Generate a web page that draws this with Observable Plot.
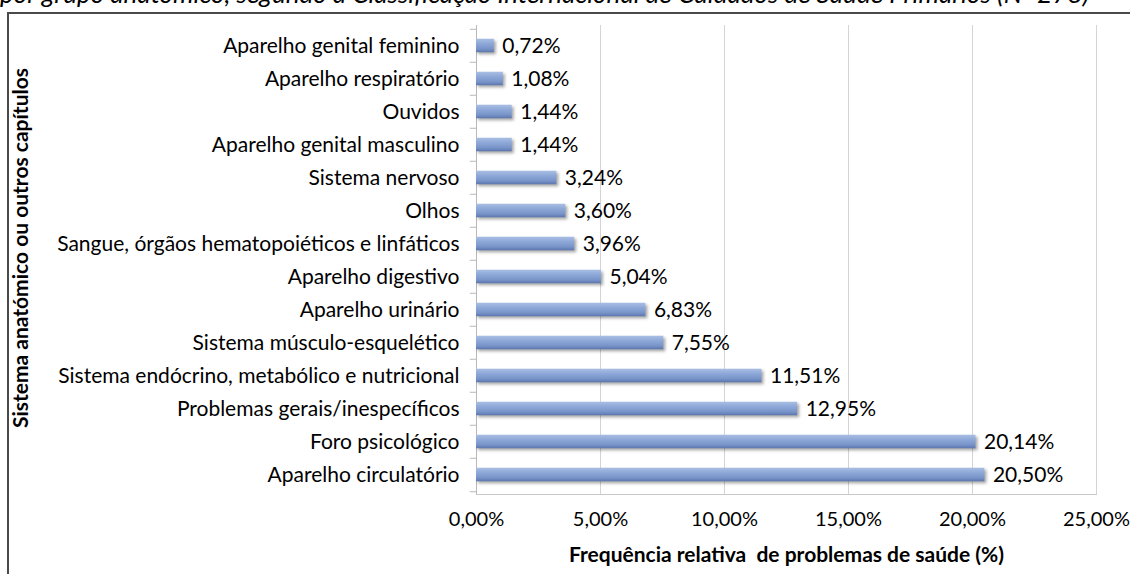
<!DOCTYPE html>
<html>
<head>
<meta charset="utf-8">
<script src="https://cdn.jsdelivr.net/npm/d3@7"></script>
<script src="https://cdn.jsdelivr.net/npm/@observablehq/plot@0.6"></script>
<style>
  html, body { margin: 0; padding: 0; background: #fff; overflow: hidden; }
  #wrap { position: relative; width: 1130px; height: 574px; overflow: hidden; }
  #caption { position: absolute; left: 0; top: -20px; line-height: 26px; font-family: Lato, sans-serif; font-style: italic; font-size: 26px; color: #000; white-space: nowrap; }
  #frame { position: absolute; left: 7px; top: 12px; width: 1140px; height: 600px; border-top: 2px solid #4a4a4a; border-left: 2px solid #4a4a4a; }
  #chart { position: absolute; left: 0; top: 0; }
  #chart svg { overflow: visible; }
  [aria-label="x-axis label"], [aria-label="y-axis label"] { font-weight: bold; }
  [aria-label="x-axis label"] { font-size: 21px; }
</style>
</head>
<body>
<div id="wrap">
  <div id="caption">por grupo anatómico, segundo a Classificação Internacional de Cuidados de Saúde Primários (N=278)</div>
  <div id="frame"></div>
  <div id="chart"></div>
</div>
<script>
const categories = [
  "Aparelho genital feminino",
  "Aparelho respiratório",
  "Ouvidos",
  "Aparelho genital masculino",
  "Sistema nervoso",
  "Olhos",
  "Sangue, órgãos hematopoiéticos e linfáticos",
  "Aparelho digestivo",
  "Aparelho urinário",
  "Sistema músculo-esquelético",
  "Sistema endócrino, metabólico e nutricional",
  "Problemas gerais/inespecíficos",
  "Foro psicológico",
  "Aparelho circulatório"
];
const values = [0.72, 1.08, 1.44, 1.44, 3.24, 3.60, 3.96, 5.04, 6.83, 7.55, 11.51, 12.95, 20.14, 20.50];
const xTicks = [0, 5, 10, 15, 20, 25];
const xTitle = "Frequência relativa \u00a0de problemas de saúde (%)";
const yTitle = "Sistema anatómico ou outros capítulos";

const data = categories.map((c, i) => ({category: c, value: values[i]}));
const fmt = v => v.toFixed(2).replace(".", ",") + "%";

const W = 1130, H = 574, mT = 25, mB = 80, mL = 476, mR = 34;
const step = (H - mT - mB) / categories.length;
const barH = 14;
const inset = (step - barH) / 2;
const FS = 21;

const chart = Plot.plot({
  width: W, height: H,
  marginTop: mT, marginBottom: mB, marginLeft: mL, marginRight: mR,
  style: {fontFamily: "Lato, sans-serif", fontSize: FS + "px", color: "#000", background: "transparent"},
  x: {domain: [0, 25]},
  y: {domain: categories, padding: 0},
  marks: [
    Plot.ruleX(xTicks.filter(t => t > 0), {stroke: "#d4d4d4", strokeWidth: 1}),
    Plot.ruleX([0], {stroke: "#b8b8b8", strokeWidth: 1}),
    Plot.frame({anchor: "bottom", stroke: "#c8c8c8"}),
    Plot.ruleY(categories, {y: d => d, x1: -0.25, x2: 0, dy: -step / 2, stroke: "#b8b8b8"}),
    Plot.ruleY(categories.slice(-1), {y: d => d, x1: -0.25, x2: 0, dy: step / 2, stroke: "#b8b8b8"}),
    Plot.barX(data, {x: "value", y: "category", fill: "url(#barGrad)", insetTop: inset, insetBottom: inset}),
    Plot.text(data, {x: "value", y: "category", text: d => fmt(d.value), dx: 8, textAnchor: "start", fontSize: FS}),
    Plot.axisY({tickSize: 0, tickPadding: 17, fontSize: FS, label: yTitle, labelAnchor: "center", labelArrow: "none", labelOffset: 463}),
    Plot.axisX({ticks: xTicks, tickFormat: fmt, tickSize: 0, tickPadding: 17, fontSize: 20, label: xTitle, labelAnchor: "center", labelArrow: "none", labelOffset: 67})
  ]
});

const svg = d3.select(chart);
const defs = svg.insert("defs", ":first-child");
const g = defs.append("linearGradient").attr("id", "barGrad").attr("x1", 0).attr("y1", 0).attr("x2", 0).attr("y2", 1);
[["0%", "#a9bee3"], ["35%", "#8ea9d8"], ["75%", "#7893c8"], ["100%", "#5a76ad"]].forEach(([o, c]) =>
  g.append("stop").attr("offset", o).attr("stop-color", c));
svg.selectAll('[aria-label="bar"]').style("filter", "drop-shadow(2px 2px 1.5px rgba(0,0,0,0.35))");
const yl = svg.select('[aria-label="y-axis label"]');
yl.attr("transform", ((yl.attr("transform") || "") + " translate(0,-12)").trim());

document.getElementById("chart").appendChild(chart);
</script>
</body>
</html>
